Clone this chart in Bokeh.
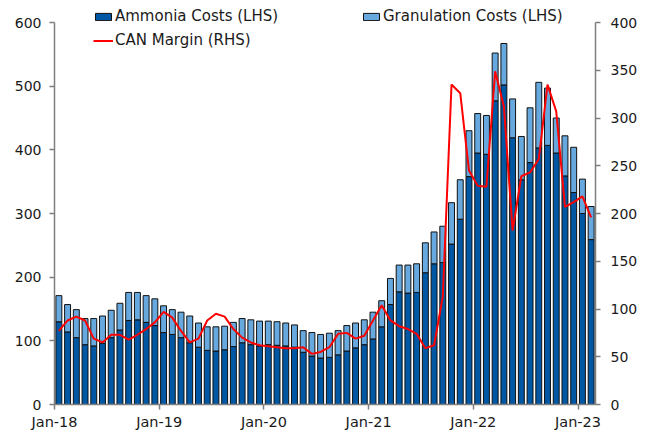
import numpy as np
from bokeh.plotting import figure
from bokeh.models import LinearAxis, Range1d, FixedTicker, Legend, LegendItem, ColumnDataSource
from bokeh.embed import file_html
from bokeh.resources import INLINE

# Monthly data Jan-18 .. Feb-23
ammonia = [130, 114, 105, 94, 92, 96, 105, 117, 132, 133, 129, 124,
           113, 110, 105, 97, 90, 85, 84, 86, 91, 97, 94, 92,
           94, 93, 92, 90, 82, 76, 73, 74, 78, 84, 89, 94,
           103, 122, 157, 177, 175, 176, 207, 221, 223, 252, 291, 358,
           395, 393, 477, 502, 419, 353, 380, 403, 407, 395, 359, 333,
           300, 259]
granulation = [41, 43, 44, 41, 43, 43, 43, 42, 44, 43, 42, 42,
               42, 39, 40, 42, 38, 37, 38, 37, 38, 38, 39, 39,
               37, 37, 36, 35, 34, 37, 37, 38, 38, 40, 39, 39,
               42, 41, 41, 42, 44, 45, 47, 50, 57, 65, 62, 72,
               62, 61, 75, 65, 61, 68, 86, 103, 90, 55, 63, 71,
               54, 52]
can_margin = [77, 88, 92, 88, 69, 65, 73, 73, 68, 73, 79, 86,
              97, 91, 77, 65, 69, 88, 95, 92, 79, 70, 65, 62,
              61, 60, 59, 59, 60, 53, 55, 60, 74, 75, 69, 72,
              88, 104, 88, 82, 79, 74, 59, 62, 113, 335, 326, 245,
              229, 228, 349, 312, 182, 239, 243, 257, 335, 307, 207, 212,
              218, 196]
tick_labels = ["Jan-18", "Jan-19", "Jan-20", "Jan-21", "Jan-22", "Jan-23"]
left_ticks = [0, 100, 200, 300, 400, 500, 600]
right_ticks = [0, 50, 100, 150, 200, 250, 300, 350, 400]

n = len(ammonia)
x = np.arange(n) + 0.5
amm = np.array(ammonia, dtype=float)
tot = amm + np.array(granulation, dtype=float)
src = ColumnDataSource(dict(x=x, amm=amm, tot=tot, can=can_margin))

FONT = "DejaVu Sans"
TXT = "#1a1a1a"
AX = "#7f7f7f"

# frame spans page y 2..404; axis values 600/400 sit at page y 22
HEADROOM = 402.0 / 382.0
LMAX, RMAX = 600, 400

p = figure(width=649, height=435, output_backend="svg", toolbar_location=None,
           x_range=Range1d(0, n), y_range=Range1d(0, LMAX * HEADROOM),
           min_border_left=54, min_border_right=54, min_border_top=2,
           min_border_bottom=31)
p.outline_line_color = None
p.grid.visible = False
p.background_fill_color = "white"

r_amm = p.vbar(x="x", width=0.68, bottom=0, top="amm", source=src,
               fill_color="#0057A3", line_color="#111111", line_width=1)
r_gra = p.vbar(x="x", width=0.68, bottom="amm", top="tot", source=src,
               fill_color="#67A9DF", line_color="#111111", line_width=1)

p.extra_y_ranges = {"rhs": Range1d(0, RMAX * HEADROOM)}
r_can = p.line(x="x", y="can", source=src, y_range_name="rhs",
               line_color="#FF0000", line_width=2)

jan_pos = [12 * i for i in range(len(tick_labels))]
p.xaxis.ticker = FixedTicker(ticks=jan_pos)
p.xaxis.major_label_overrides = {pos: lab for pos, lab in zip(jan_pos, tick_labels)}
p.yaxis.ticker = FixedTicker(ticks=left_ticks)
p.yaxis.bounds = (0, LMAX)

rax = LinearAxis(y_range_name="rhs", ticker=FixedTicker(ticks=right_ticks),
                 bounds=(0, RMAX))
p.add_layout(rax, "right")

for ax in [p.xaxis[0], p.yaxis[0], rax]:
    ax.axis_line_color = AX
    ax.axis_line_width = 1.5
    ax.major_tick_line_color = AX
    ax.major_tick_line_width = 1.5
    ax.major_tick_in = 0
    ax.major_tick_out = 5
    ax.minor_tick_line_color = None
    ax.major_label_text_font = FONT
    ax.major_label_text_font_size = "14px"
    ax.major_label_text_color = TXT
p.xaxis.major_label_text_font_size = "14.5px"
p.xaxis.major_label_standoff = 4
p.yaxis[0].major_label_standoff = 8
rax.major_label_standoff = 10


def style(lg):
    lg.border_line_color = None
    lg.background_fill_alpha = 0
    lg.padding = 0
    lg.margin = 0
    lg.spacing = 6
    lg.label_standoff = 2
    lg.glyph_width = 20
    lg.glyph_height = 9
    lg.label_height = 18
    lg.label_text_font = FONT
    lg.label_text_font_size = "15px"
    lg.label_text_color = TXT


lg1 = Legend(items=[LegendItem(label="Ammonia Costs (LHS)", renderers=[r_amm]),
                    LegendItem(label="CAN Margin (RHS)", renderers=[r_can])],
             location=(39, 355))
style(lg1)
lg2 = Legend(items=[LegendItem(label="Granulation Costs (LHS)", renderers=[r_gra])],
             location=(307, 379))
style(lg2)
p.add_layout(lg1)
p.add_layout(lg2)

open("out.html", "w").write(file_html(p, INLINE))
